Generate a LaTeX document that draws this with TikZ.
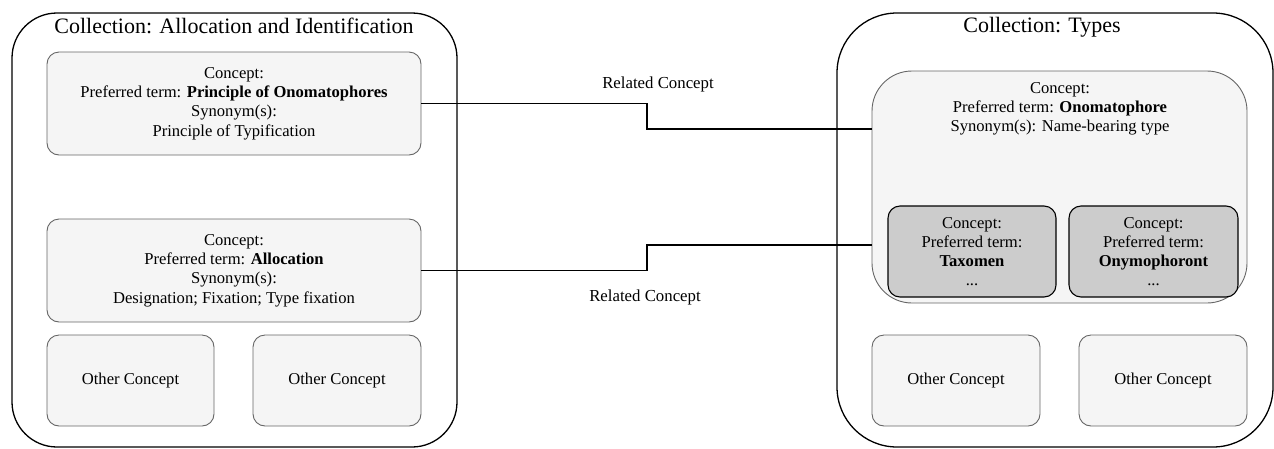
\documentclass[tikz,border=0pt]{standalone}
\usepackage{fontspec}
\setmainfont{Liberation Serif}
\begin{document}
\begin{tikzpicture}[x=1pt,y=-1pt,
  coll/.style={draw=black,line width=1.3pt,rounded corners=#1,minimum width=0pt,inner sep=0pt,outer sep=0pt},
  txt/.style={align=center,font=\fontsize{16.6}{19.2}\selectfont,inner sep=0pt},
  concept/.style={txt,draw=black!60,fill=black!4,line width=0.9pt,rounded corners=12pt,outer sep=0pt},
  dark/.style={txt,draw=black,fill=black!20,line width=1.1pt,rounded corners=12pt,outer sep=0pt},
  title/.style={font=\fontsize{22}{26}\selectfont,inner sep=0pt},
  rel/.style={font=\fontsize{16.8}{19}\selectfont,inner sep=0pt},
  conn/.style={draw=black,line width=1.6pt}]
\useasboundingbox (0,0) rectangle (1274,448);
% containers
\node[coll=45pt,minimum width=445pt,minimum height=434pt] (cl) at (234.5,230) {};
\node[coll=60pt,minimum width=436pt,minimum height=434pt] (cr) at (1055,230) {};
\node[title] (tl) at (234,26) {Collection: Allocation and Identification};
\node[title] (tr) at (1042,27) {Collection: Types};
% left concepts
\node[concept,minimum width=374pt,minimum height=103pt] (b1) at (234,103.5)
  {Concept:\\Preferred term: \textbf{Principle of Onomatophores}\\Synonym(s):\\Principle of Typification};
\node[concept,minimum width=374pt,minimum height=103pt] (b2) at (234,270.5)
  {Concept:\\Preferred term: \textbf{Allocation}\\Synonym(s):\\Designation; Fixation; Type fixation};
\node[concept,minimum width=167pt,minimum height=91pt] (o1) at (130.5,380.5) {Other Concept};
\node[concept,minimum width=168pt,minimum height=91pt] (o2) at (337,380.5) {Other Concept};
% right concepts
\node[concept,rounded corners=40pt,minimum width=375pt,minimum height=232pt] (big) at (1059.5,187) {};
\node[txt] (bigt) at (1060,109) {Concept:\\Preferred term: \textbf{Onomatophore}\\Synonym(s): Name-bearing type};
\node[dark,minimum width=168pt,minimum height=91pt] (d1) at (972,251.5) {Concept:\\Preferred term:\\\textbf{Taxomen}\\...};
\node[dark,minimum width=169pt,minimum height=91pt] (d2) at (1153.5,251.5) {Concept:\\Preferred term:\\\textbf{Onymophoront}\\...};
\node[concept,minimum width=168pt,minimum height=91pt] (o3) at (956,380.5) {Other Concept};
\node[concept,minimum width=168pt,minimum height=91pt] (o4) at (1163,380.5) {Other Concept};
% connectors
\coordinate (m1) at (647,129);
\coordinate (m2) at (647,245);
\draw[conn] (b1.east) -| (m1) -- (m1 -| big.west);
\draw[conn] (b2.east) -| (m2) -- (m2 -| big.west);
\node[rel] (r1) at (658,84) {Related Concept};
\node[rel] (r2) at (645,297) {Related Concept};
\end{tikzpicture}
\end{document}
